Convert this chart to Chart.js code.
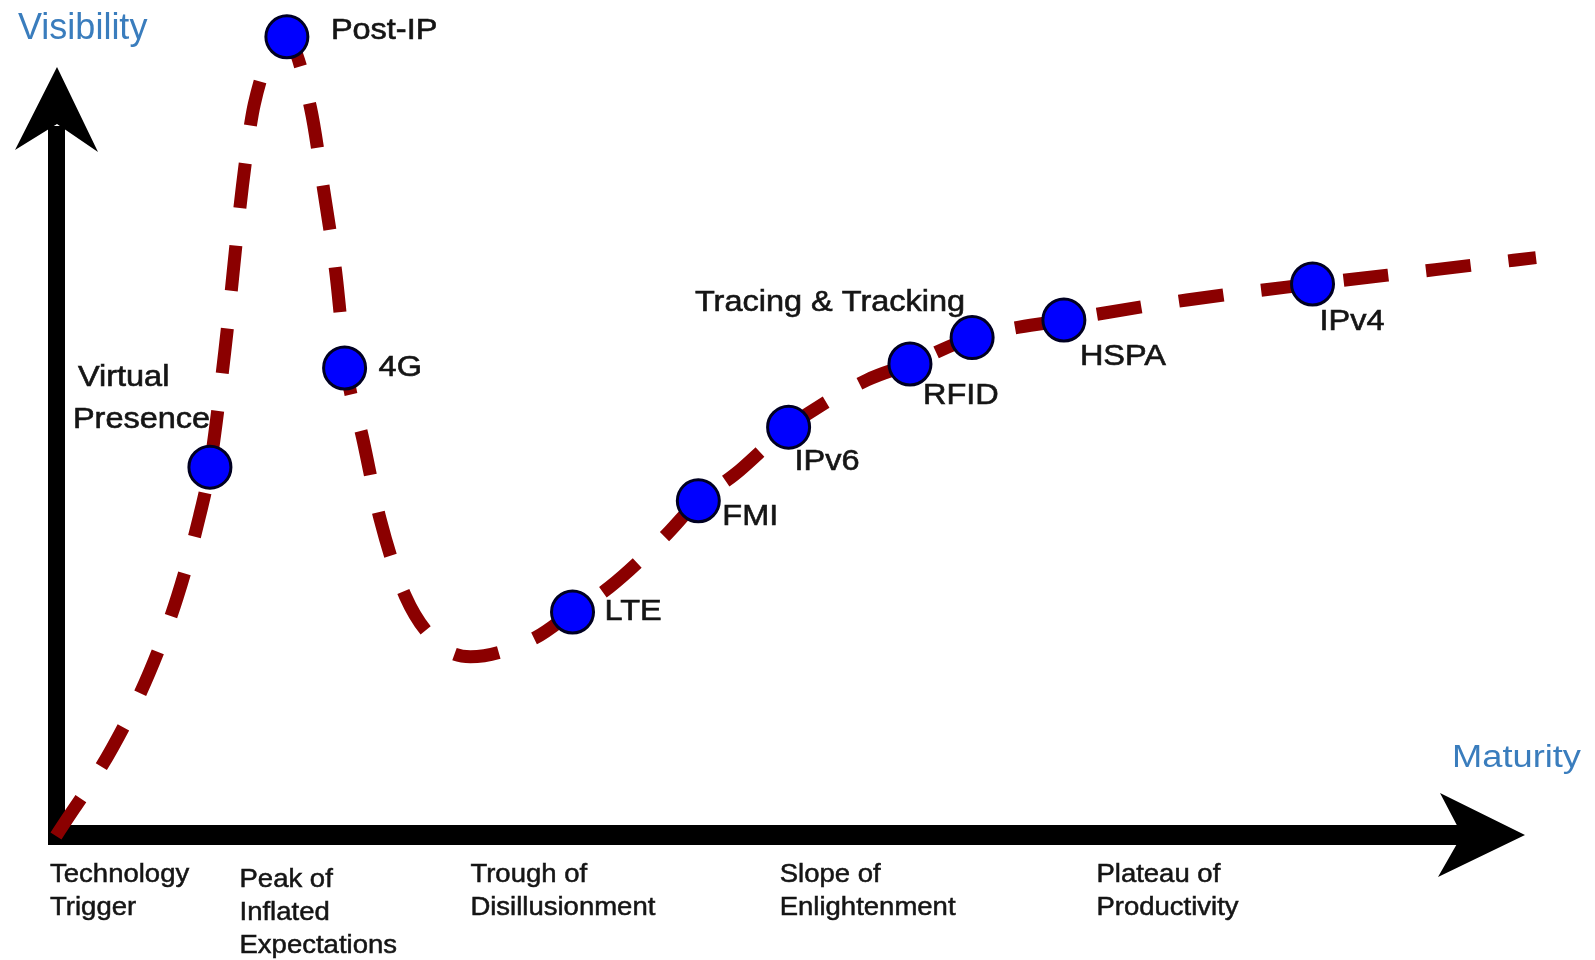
<!DOCTYPE html>
<html>
<head>
<meta charset="utf-8">
<script src="https://cdn.jsdelivr.net/npm/chart.js@4.4.1/dist/chart.umd.min.js"></script>
<style>
  body { margin: 0; background: #ffffff; }
  #wrap { width: 1595px; height: 960px; }
</style>
</head>
<body>
<div id="wrap"><canvas id="hypeChart" width="1595" height="960"></canvas></div>
<script>
// hype curve (maturity 0-100, visibility 0-100)
const curveX = [0, 3.8, 6.3, 8.2, 9.7, 10.4, 11.4, 12.6, 13.4, 15.6, 17.2, 18.1, 18.9, 19.6, 20.7, 21.9, 23.6, 25.9, 28, 32.4, 34.9, 37.4, 41.1, 43.4, 45.8, 49.5, 54.8, 57.7, 61.9, 68.1, 76.4, 84.9, 93.2, 100];
const curveY = [0, 11, 20.4, 29.9, 40, 46.1, 60.5, 81.3, 91.5, 99.5, 91, 80.6, 70.5, 58.5, 49.9, 39.6, 30, 23.9, 22.4, 24.8, 28, 31.1, 37.4, 41.9, 45.1, 51.1, 57, 59, 62.3, 64.5, 67, 69, 70.8, 72.3];

// technologies on the curve
const techNames = ["Virtual\nPresence", "Post-IP", "4G", "LTE", "FMI", "IPv6", "RFID", "Tracing & Tracking", "HSPA", "IPv4"];
const techX = [10.4, 15.6, 19.5, 34.9, 43.4, 49.5, 57.7, 61.9, 68.1, 84.9];
const techY = [46.1, 99.9, 58.5, 28, 41.9, 51.1, 59, 62.3, 64.5, 69];

// phases under the x axis
const phaseNames = ["Technology\nTrigger", "Peak of\nInflated\nExpectations", "Trough of\nDisillusionment", "Slope of\nEnlightenment", "Plateau of\nProductivity"];
const phaseX = [-0.4, 12.4, 28, 48.9, 70.3];

// label placement (pixels from the point), one entry per line
const labelPos = [
  [[-132, -89], [-137, -47]],
  [[44, -6]],
  [[34, 0]],
  [[32, 0]],
  [[24, 16]],
  [[6, 35]],
  [[13, 32]],
  [[-7, -35, "right"]],
  [[16, 37]],
  [[7, 38]]
];
const phaseDrop = [0, 5, 0, 0, 0];

const FONT = "'Liberation Sans', Arial, sans-serif";

function stretchText(ctx, txt, x, y, size, sx, color, align, weight) {
  ctx.save();
  ctx.font = size + "px " + FONT;
  ctx.fillStyle = color;
  ctx.strokeStyle = color;
  ctx.lineWidth = weight || 0;
  ctx.textAlign = align || "left";
  ctx.translate(x, y);
  ctx.scale(sx, 1);
  ctx.fillText(txt, 0, 0);
  if (weight) ctx.strokeText(txt, 0, 0);
  ctx.restore();
}

// arrows for the axes and all the text
const hypeDecor = {
  id: "hypeDecor",
  beforeDatasetsDraw(chart) {
    const ctx = chart.ctx;
    const x0 = chart.scales.x.getPixelForValue(0);
    const y0 = chart.scales.y.getPixelForValue(0);
    ctx.save();
    ctx.fillStyle = "#000000";
    // vertical arrow
    ctx.fillRect(x0 - 8, y0 - 710, 17, 719);
    ctx.beginPath();
    ctx.moveTo(x0 + 1, y0 - 769);
    ctx.lineTo(x0 + 42, y0 - 684);
    ctx.lineTo(x0 + 1, y0 - 712);
    ctx.lineTo(x0 - 41, y0 - 686);
    ctx.closePath();
    ctx.fill();
    // horizontal arrow
    ctx.fillRect(x0 - 8, y0 - 11, 1418, 20);
    ctx.beginPath();
    ctx.moveTo(x0 + 1469, y0 - 1);
    ctx.lineTo(x0 + 1384, y0 - 43);
    ctx.lineTo(x0 + 1406, y0 - 1);
    ctx.lineTo(x0 + 1382, y0 + 41);
    ctx.closePath();
    ctx.fill();
    ctx.restore();
  },
  afterDatasetsDraw(chart) {
    const ctx = chart.ctx;
    const xs = chart.scales.x, ys = chart.scales.y;
    ctx.save();
    ctx.textBaseline = "middle";
    techNames.forEach((name, i) => {
      const px = xs.getPixelForValue(techX[i]);
      const py = ys.getPixelForValue(techY[i]);
      name.split("\n").forEach((line, j) => {
        const p = labelPos[i][j];
        stretchText(ctx, line, px + p[0], py + p[1], 29, 1.12, "#151515", p[2], 0.6);
      });
    });
    ctx.textBaseline = "alphabetic";
    const yb = ys.getPixelForValue(0);
    phaseNames.forEach((name, i) => {
      const px = xs.getPixelForValue(phaseX[i]);
      name.split("\n").forEach((line, j) => {
        stretchText(ctx, line, px, yb + 46 + phaseDrop[i] + j * 33, 25, 1.1, "#151515", "left", 0.5);
      });
    });
    stretchText(ctx, "Visibility", 18, 39, 36, 1, "#3a7dbd");
    stretchText(ctx, "Maturity", 1452, 767, 31, 1.17, "#3a7dbd");
    ctx.restore();
  }
};

new Chart(document.getElementById("hypeChart"), {
  type: "scatter",
  data: {
    datasets: [
      {
        label: "Technologies",
        data: techX.map((x, i) => ({ x: x, y: techY[i] })),
        pointRadius: 21,
        pointHoverRadius: 21,
        backgroundColor: "#0000ff",
        borderColor: "#000022",
        borderWidth: 3,
        clip: false,
        order: 0
      },
      {
        label: "Hype curve",
        data: curveX.map((x, i) => ({ x: x, y: curveY[i] })),
        showLine: true,
        pointRadius: 0,
        borderColor: "#8b0000",
        borderWidth: 13,
        borderDash: [45, 38],
        borderCapStyle: "butt",
        cubicInterpolationMode: "monotone",
        clip: false,
        order: 1
      }
    ]
  },
  options: {
    responsive: false,
    animation: false,
    devicePixelRatio: 1,
    layout: { padding: { left: 56, right: 59, top: 36, bottom: 124 } },
    scales: {
      x: { type: "linear", min: 0, max: 100, display: false },
      y: { type: "linear", min: 0, max: 100, display: false }
    },
    plugins: {
      legend: { display: false },
      tooltip: { enabled: false }
    }
  },
  plugins: [hypeDecor]
});
</script>
</body>
</html>
